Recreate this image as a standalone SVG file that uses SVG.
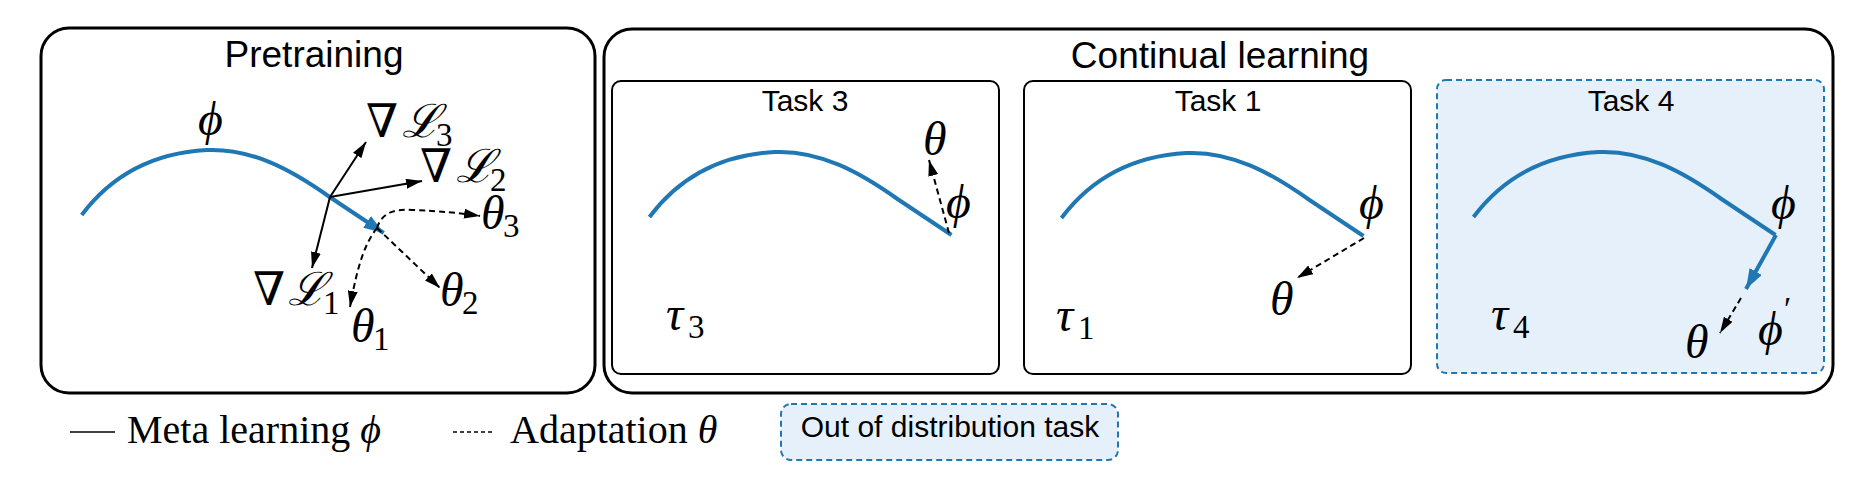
<svg xmlns="http://www.w3.org/2000/svg" width="1867" height="499" viewBox="0 0 1867 499">
<style>
.frame{fill:#fff;stroke:#000;stroke-width:3}
.task{fill:#fff;stroke:#000;stroke-width:2}
.ood{fill:#e6f0fa;stroke:#1f77b4;stroke-width:2;stroke-dasharray:6 4}
.curve{fill:none;stroke:#1f77b4;stroke-width:4}
.grad{fill:none;stroke:#000;stroke-width:2}
.adapt{fill:none;stroke:#000;stroke-width:2;stroke-dasharray:6 4}
.h{font-family:"Liberation Sans",Arial,sans-serif;font-size:37px;text-anchor:middle}
.t{font-family:"Liberation Sans",Arial,sans-serif;font-size:30px;text-anchor:middle}
.m{font-family:"Liberation Serif","DejaVu Serif",serif;font-style:italic;font-size:48px}
.L{font-family:"DejaVu Serif","Liberation Serif",serif;font-style:italic;font-size:46px}
.n{font-family:"DejaVu Serif","Liberation Serif",serif;font-style:normal;font-size:46px}
.s{font-family:"Liberation Serif",serif;font-style:normal;font-size:33px}
.lg{font-family:"Liberation Serif",serif;font-size:40px}
</style>
<defs>
<path id="arc" d="M0,0 C30,-40 70,-62 125,-65 C170,-67 210,-45 248,-18 L302,18"/>
<marker id="ah" viewBox="0 0 16 10" refX="16" refY="5" markerWidth="16" markerHeight="10" markerUnits="userSpaceOnUse" orient="auto"><path d="M0,0 L16,5 L0,10 z" fill="#000"/></marker>
<marker id="bh" viewBox="0 0 20 14" refX="20" refY="7" markerWidth="20" markerHeight="14" markerUnits="userSpaceOnUse" orient="auto"><path d="M0,0 L20,7 L0,14 z" fill="#1f77b4"/></marker>
</defs>

<g id="pretraining">
<rect class="frame" x="41" y="28" width="554" height="365" rx="28"/>
<text class="h" x="314" y="67">Pretraining</text>
<use href="#arc" class="curve" transform="translate(81.7,215)" marker-end="url(#bh)"/>
<text class="m" x="198" y="135">ϕ</text>
<text><tspan class="n" x="366" y="137">∇</tspan><tspan class="L" x="402" y="137">ℒ</tspan><tspan class="s" x="436" y="146">3</tspan></text>
<text><tspan class="n" x="420" y="182">∇</tspan><tspan class="L" x="456" y="182">ℒ</tspan><tspan class="s" x="490" y="191">2</tspan></text>
<text><tspan class="n" x="253" y="305">∇</tspan><tspan class="L" x="288" y="305">ℒ</tspan><tspan class="s" x="323" y="314">1</tspan></text>
<text><tspan class="m" x="481" y="229">θ</tspan><tspan class="s" x="503" y="237">3</tspan></text>
<text><tspan class="m" x="440" y="306">θ</tspan><tspan class="s" x="462" y="314">2</tspan></text>
<text><tspan class="m" x="351" y="342">θ</tspan><tspan class="s" x="373" y="350">1</tspan></text>
</g>

<g id="continual">
<rect class="frame" x="604" y="29" width="1229" height="364" rx="28"/>
<text class="h" x="1220" y="68">Continual learning</text>
</g>

<g id="task3">
<rect class="task" x="612" y="81" width="387" height="293" rx="9"/>
<text class="t" x="805" y="111">Task 3</text>
<use href="#arc" class="curve" transform="translate(649.5,217)"/>
<text class="m" x="946" y="218">ϕ</text>
<text class="m" x="923" y="155">θ</text>
<text><tspan class="m" x="666" y="330">τ</tspan><tspan class="s" x="688" y="338">3</tspan></text>
</g>

<g id="task1">
<rect class="task" x="1024" y="81" width="387" height="293" rx="9"/>
<text class="t" x="1218" y="111">Task 1</text>
<use href="#arc" class="curve" transform="translate(1061.5,218)"/>
<text class="m" x="1359" y="219">ϕ</text>
<text class="m" x="1270" y="315">θ</text>
<text><tspan class="m" x="1056" y="331">τ</tspan><tspan class="s" x="1078" y="339">1</tspan></text>
</g>

<g id="task4">
<rect class="ood" x="1437" y="80" width="387" height="293" rx="9"/>
<text class="t" x="1631" y="111">Task 4</text>
<use href="#arc" class="curve" transform="translate(1473.5,217)"/>
<text class="m" x="1771" y="219">ϕ</text>
<text><tspan class="m" x="1758" y="345">ϕ</tspan><tspan class="s" x="1784" y="320">′</tspan></text>
<text class="m" x="1685" y="358">θ</text>
<text><tspan class="m" x="1491" y="330">τ</tspan><tspan class="s" x="1513" y="338">4</tspan></text>
</g>

<g id="connectors">
<path class="grad" d="M330,197 L366,142" marker-end="url(#ah)"/>
<path class="grad" d="M330,197 L422,181" marker-end="url(#ah)"/>
<path class="grad" d="M330,197 L312,268" marker-end="url(#ah)"/>
<path class="adapt" d="M377,228 C382,212 395,209 412,210 C440,211 460,213 480,216" marker-end="url(#ah)"/>
<path class="adapt" d="M377,228 L440,288" marker-end="url(#ah)"/>
<path class="adapt" d="M377,228 C366,242 358,262 350,307" marker-end="url(#ah)"/>
<path class="adapt" d="M949,233 L929,160" marker-end="url(#ah)"/>
<path class="adapt" d="M1364,238 L1297,278" marker-end="url(#ah)"/>
<path class="curve" d="M1776,235 L1746,289" marker-end="url(#bh)"/>
<path class="adapt" d="M1741,298 L1720,333" marker-end="url(#ah)"/>
</g>

<g id="legend">
<line x1="70" y1="432" x2="115" y2="432" stroke="#000" stroke-width="1.5"/>
<text class="lg" x="127" y="443">Meta learning <tspan font-style="italic">ϕ</tspan></text>
<line x1="453" y1="432" x2="493" y2="432" stroke="#000" stroke-width="1.5" stroke-dasharray="4 3"/>
<text class="lg" x="510" y="443">Adaptation <tspan font-style="italic">θ</tspan></text>
<g id="ood-legend">
<rect class="ood" x="781" y="404" width="337" height="56" rx="10"/>
<text class="t" x="950" y="437" font-size="31">Out of distribution task</text>
</g>
</g>
</svg>
